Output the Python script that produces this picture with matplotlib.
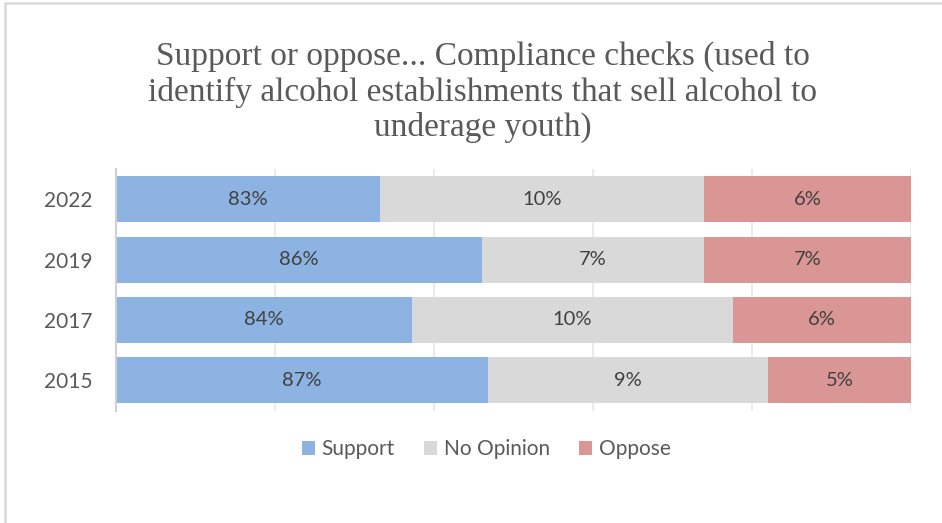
import matplotlib.pyplot as plt
from matplotlib.patches import Rectangle

years = ['2015', '2017', '2019', '2022']
support = [86.7, 84.3, 86.5, 83.3]
no_opinion = [8.8, 10.1, 7.0, 10.2]
oppose = [4.7, 5.6, 6.6, 6.5]

series = ['Support', 'No Opinion', 'Oppose']
colors = ['#8DB3E2', '#D9D9D9', '#D99694']

x_min, x_max = 75, 100

plt.rcParams['font.family'] = ['Lato', 'DejaVu Sans']

fig = plt.figure(figsize=(9.42, 5.23), dpi=100)
ax = fig.add_axes([116 / 942, 1 - 410.5 / 523, 795 / 942, 241.5 / 523])

y = range(len(years))
left = [0] * len(years)
for name, vals, col in zip(series, [support, no_opinion, oppose], colors):
    ax.barh(y, vals, left=left, height=0.76, color=col, label=name, zorder=2)
    for i, (l, v) in enumerate(zip(left, vals)):
        a = max(l, x_min)
        b = min(l + v, x_max)
        ax.text((a + b) / 2, i, f'{round(v):.0f}%', ha='center', va='center',
                fontsize=14.5, color='#404040', zorder=3)
    left = [l + v for l, v in zip(left, vals)]

ax.set_xlim(x_min, x_max)
ax.set_ylim(-0.5, len(years) - 0.5)
ax.set_xticks(range(75, 101, 5))
ax.xaxis.grid(True, color='#E6E6E6', lw=1.2, zorder=0)
ax.set_axisbelow(True)
ax.tick_params(axis='x', length=0, labelbottom=False)
ax.tick_params(axis='y', length=0, labelsize=15, labelcolor='#595959', pad=17)
ax.set_yticks(list(y))
ax.set_yticklabels(years)
for s in ['top', 'right', 'bottom']:
    ax.spines[s].set_visible(False)
ax.spines['left'].set_color('#D0D0D0')
ax.spines['left'].set_linewidth(1.5)

fig.text(483 / 942, 1 - 92 / 523,
         'Support or oppose... Compliance checks (used to\n'
         'identify alcohol establishments that sell alcohol to\n'
         'underage youth)',
         ha='center', va='center', fontsize=24, color='#595959',
         family=['Liberation Serif'], linespacing=1.17)

fig.legend(loc='center', bbox_to_anchor=(486 / 942, 1 - 449 / 523), ncol=3,
           frameon=False, fontsize=15, labelcolor='#595959',
           handlelength=0.65, handleheight=0.65, handletextpad=0.3,
           columnspacing=1.4)

fig.add_artist(Rectangle((5 / 942, -0.1), 1.0, 1.1 - 3 / 523,
                         transform=fig.transFigure, fill=False,
                         edgecolor='#D9D9D9', lw=1.8))

fig.savefig('out.png', dpi=100)
